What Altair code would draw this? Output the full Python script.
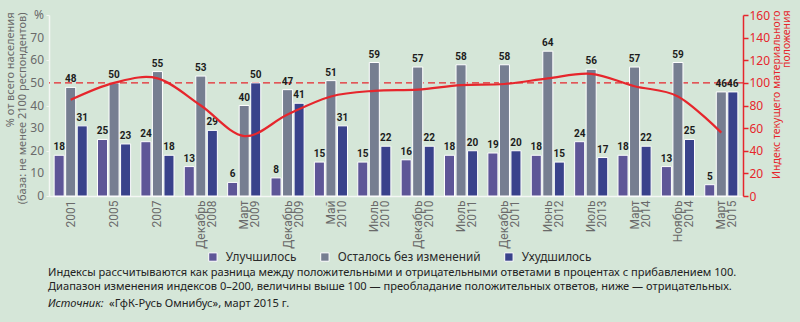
import altair as alt
import pandas as pd

# ---- data ----
groups = ["2001", "2005", "2007", "Декабрь 2008", "Март 2009", "Декабрь 2009",
          "Май 2010", "Июль 2010", "Декабрь 2010", "Июль 2011", "Декабрь 2011",
          "Июнь 2012", "Июль 2013", "Март 2014", "Ноябрь 2014", "Март 2015"]
series_names = ["Улучшилось", "Осталось без изменений", "Ухудшилось"]
improved = [18, 25, 24, 13, 6, 8, 15, 15, 16, 18, 19, 18, 24, 18, 13, 5]
unchanged = [48, 50, 55, 53, 40, 47, 51, 59, 57, 58, 58, 64, 56, 57, 59, 46]
worse = [31, 23, 18, 29, 50, 41, 31, 22, 22, 20, 20, 15, 17, 22, 25, 46]
index_vals = [85, 100, 104, 80, 53, 72, 88, 93, 94, 98, 99, 104, 108, 97, 88, 56]
ref_pct = [50]
y_ticks_left = [0, 10, 20, 30, 40, 50, 60, 70, 80]
y_tick_labels_left = ["0", "10", "20", "30", "40", "50", "60", "70", "%"]
y_ticks_right = [0, 20, 40, 60, 80, 100, 120, 140, 160]

note1 = "Индексы рассчитываются как разница между положительными и отрицательными ответами в процентах с прибавлением 100."
note2 = "Диапазон изменения индексов 0–200, величины выше 100 — преобладание положительных ответов, ниже — отрицательных."
note3a = "Источник:"
note3b = "«ГфК-Русь Омнибус», март 2015 г."

colors = ["#5e5697", "#767e91", "#39428b"]
RED = "#e6262c"
BG = "#d5e6d8"
GREY = "#6a6a6a"
FONT = "Noto Sans"
NARROW = "Roboto"

rows = []
for i, g in enumerate(groups):
    for s, vals in zip(series_names, [improved, unchanged, worse]):
        rows.append({"group": g, "series": s, "value": vals[i]})
df = pd.DataFrame(rows)
df_idx = pd.DataFrame({"group": groups, "idx": index_vals})
df_ref = pd.DataFrame({"v": ref_pct})
df_yt = pd.DataFrame({"v": y_ticks_left, "lab": y_tick_labels_left})

x_enc = alt.X("group:N", sort=groups,
              scale=alt.Scale(paddingInner=0, paddingOuter=0),
              axis=alt.Axis(title=None, labelAngle=270, labelAlign="right",
                            labelBaseline="middle", labelPadding=4,
                            labelExpr="split(datum.label, ' ')",
                            labelLineHeight=11, labelFontSize=12,
                            labelColor=GREY, labelFont=NARROW,
                            labelOverlap=False,
                            ticks=False, domainColor="#f4f7f4", domainWidth=1.5))
xoff_enc = alt.XOffset("series:N", sort=series_names,
                       scale=alt.Scale(paddingInner=0.13, paddingOuter=0.445))
y_scale = alt.Scale(domain=[0, 80])

y_axis = alt.Axis(values=y_ticks_left, labels=False,
                  title=["% от всего населения", "(база: не менее 2100 респондентов)"],
                  titleAngle=270, titleAlign="right", titleAnchor="end",
                  titleBaseline="top", titleX=-45, titleY=-3,
                  titleFontSize=11, titleFontWeight="normal", titleColor=GREY,
                  titleFont=FONT, titleLineHeight=12,
                  tickColor="#f4f7f4", tickSize=3, domainColor="#f4f7f4",
                  domainWidth=1.5, grid=False)

bars = alt.Chart(df).mark_bar(stroke="white", strokeWidth=1).encode(
    x=x_enc,
    xOffset=xoff_enc,
    y=alt.Y("value:Q", scale=y_scale, axis=y_axis),
    color=alt.Color("series:N", sort=series_names,
                    scale=alt.Scale(domain=series_names, range=colors),
                    legend=alt.Legend(title=None, orient="none", legendX=158,
                                      legendY=236, direction="horizontal",
                                      columns=3, symbolType="square",
                                      symbolSize=70, symbolStrokeColor="white",
                                      symbolStrokeWidth=1, labelFontSize=11.8,
                                      labelColor="#2a2a2a", labelFont=FONT,
                                      columnPadding=21, labelOffset=7,
                                      padding=0)),
)

rule = alt.Chart(df_ref).mark_rule(color=RED, strokeDash=[7, 4], strokeWidth=1.3).encode(
    y=alt.Y("v:Q", scale=y_scale)
)

ytick_text = alt.Chart(df_yt).mark_text(
    align="right", baseline="middle", fontSize=12, font=FONT, color=GREY
).encode(x=alt.value(-5), y=alt.Y("v:Q", scale=y_scale), text="lab:N")

labels = alt.Chart(df).mark_text(dy=-8, fontWeight="bold", fontSize=10,
                                 font=NARROW, color="#1c1c1c").encode(
    x=alt.X("group:N", sort=groups),
    xOffset=alt.XOffset("series:N", sort=series_names),
    y=alt.Y("value:Q", scale=y_scale),
    text="value:Q",
)

left = alt.layer(rule, bars, labels, ytick_text)

line = alt.Chart(df_idx).mark_line(color=RED, strokeWidth=2.2, interpolate="cardinal").encode(
    x=alt.X("group:N", sort=groups),
    y=alt.Y("idx:Q", scale=alt.Scale(domain=[0, 160]),
            axis=alt.Axis(orient="right", values=y_ticks_right,
                          labelOverlap=False,
                          title=["Индекс текущего материального", "положения"],
                          titleAngle=270, titleAlign="right", titleAnchor="end",
                          titleBaseline="top", titleX=28, titleY=-5,
                          titleFontSize=10.5, titleFontWeight="normal",
                          titleColor=RED, titleFont=FONT, titleLineHeight=10,
                          labelFontSize=12, labelColor=RED, labelFont=FONT,
                          labelPadding=1, tickColor=RED, tickSize=5,
                          tickWidth=1.5, domainColor=RED, domainWidth=1.5,
                          grid=False)),
)

n1 = alt.Chart(pd.DataFrame({"t": [note1]})).mark_text(
    align="left", baseline="middle", fontSize=11.1, font=FONT, color="#222"
).encode(x=alt.value(-1), y=alt.value(258), text="t:N")
n2 = alt.Chart(pd.DataFrame({"t": [note2]})).mark_text(
    align="left", baseline="middle", fontSize=11.1, font=FONT, color="#222"
).encode(x=alt.value(-1), y=alt.value(271.5), text="t:N")
n3a = alt.Chart(pd.DataFrame({"t": [note3a]})).mark_text(
    align="left", baseline="middle", fontSize=11.1, font=FONT, fontStyle="italic",
    color="#222"
).encode(x=alt.value(-1), y=alt.value(288.5), text="t:N")
n3b = alt.Chart(pd.DataFrame({"t": [note3b]})).mark_text(
    align="left", baseline="middle", fontSize=11.1, font=FONT, color="#222"
).encode(x=alt.value(60), y=alt.value(288.5), text="t:N")

chart = alt.layer(left, line, n1, n2, n3a, n3b).resolve_scale(
    y="independent"
).properties(
    width=694, height=181,
    autosize=alt.AutoSizeParams(type="none"),
    padding={"left": 49, "top": 15, "right": 57, "bottom": 126},
    background=BG,
).configure_view(stroke=None)

chart.save("out.html", embed_options={"renderer": "svg", "actions": False})
